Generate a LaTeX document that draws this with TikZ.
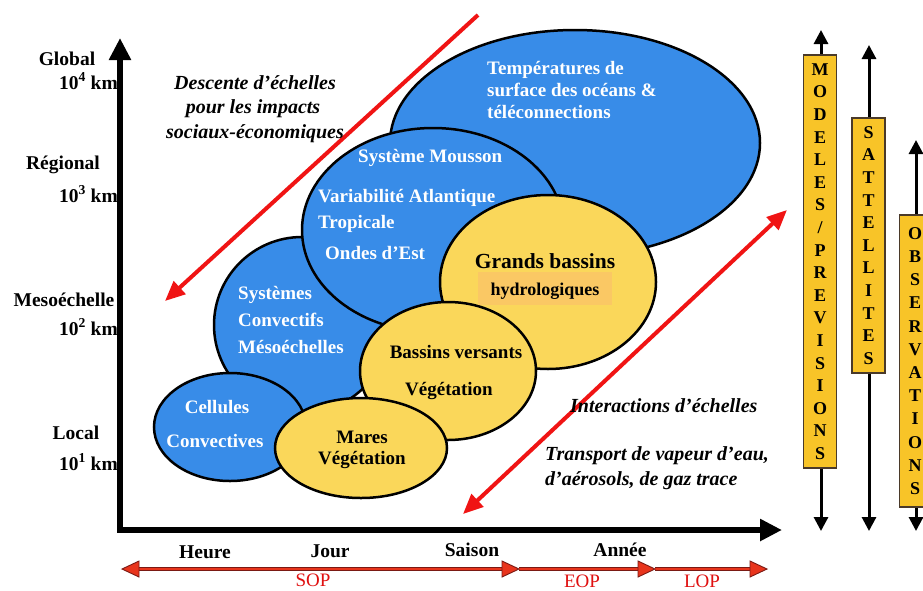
\documentclass[tikz,border=0pt]{standalone}
\usepackage{fontspec}
\setmainfont{Liberation Serif}
\usetikzlibrary{arrows.meta,shapes.geometric}
\definecolor{eblue}{HTML}{388CE8}
\definecolor{eyellow}{HTML}{FAD75A}
\definecolor{bargold}{HTML}{F8C428}
\definecolor{barline}{HTML}{4A3A2A}
\definecolor{hydrobox}{HTML}{FAC864}
\definecolor{ared}{HTML}{F01414}
\definecolor{bred}{HTML}{E8341C}
\definecolor{bdark}{HTML}{7A1A14}
\definecolor{labred}{HTML}{E01010}
\begin{document}
\begin{tikzpicture}[x=1pt,y=-1pt,
  blob/.style={ellipse, draw=black, line width=2.5pt, inner sep=0pt},
  wtxt/.style={text=white, font=\bfseries\fontsize{19}{22}\selectfont, inner sep=0pt},
  ktxt/.style={text=black, font=\bfseries\fontsize{19}{22}\selectfont, inner sep=0pt},
  itxt/.style={text=black, font=\bfseries\itshape\fontsize{20}{22}\selectfont, inner sep=0pt},
  axlab/.style={text=black, font=\bfseries\fontsize{19.5}{22}\selectfont, inner sep=0pt},
  oplab/.style={text=labred, font=\fontsize{19}{20}\selectfont, inner sep=0pt},
  redarr/.style={draw=ared, line width=4pt, -{Triangle[length=20pt,width=17pt]}},
  botline/.style={draw=bdark, double=bred, double distance=2.2pt, line width=1.3pt},
  bothead/.style={fill=bred, draw=bdark, line width=0.9pt, line join=miter},
  vline/.style={draw=black, line width=3pt, {Triangle[length=14pt,width=14pt]}-{Triangle[length=14pt,width=14pt]}},
  bar/.style={rectangle, fill=bargold, draw=barline, line width=1.5pt, minimum width=33pt, inner sep=0pt, align=center, font=\bfseries\fontsize{18}{22.6}\selectfont}
]
\useasboundingbox (0,0) rectangle (923,590);
\clip (0,0) rectangle (923,590);
\fill[white] (0,0) rectangle (923,590);

% ---- ellipses
\node[blob, fill=eblue, minimum width=370pt, minimum height=226pt] (sst) at (575,143) {};
\node[blob, fill=eblue, minimum width=176pt, minimum height=176pt] (sysconv) at (302,325) {};
\node[blob, fill=eblue, minimum width=262pt, minimum height=204pt] (mousson) at (433,230) {};
\node[blob, fill=eyellow, minimum width=216pt, minimum height=174pt] (grands) at (548,282) {};
\node[blob, fill=eblue, minimum width=152pt, minimum height=108pt] (cell) at (230,427) {};
\node[blob, fill=eyellow, minimum width=176pt, minimum height=138pt] (bv) at (448,371) {};
\node[blob, fill=eyellow, minimum width=172pt, minimum height=100pt] (mares) at (361,448) {};

% ---- ellipse texts
\node[wtxt, anchor=base west] (tsst1) at (487,74) {Températures de};
\node[wtxt, anchor=base west] (tsst2) at (487,96) {surface des océans \&};
\node[wtxt, anchor=base west] (tsst3) at (487,118) {téléconnections};
\node[wtxt, anchor=base west] (tm1) at (358,162) {Système Mousson};
\node[wtxt, anchor=base west] (tm2) at (318,202) {Variabilité Atlantique};
\node[wtxt, anchor=base west] (tm3) at (318,228) {Tropicale};
\node[wtxt, anchor=base west] (tm4) at (325,259) {Ondes d’Est};
\node[wtxt, anchor=base west] (ts1) at (238,299) {Systèmes};
\node[wtxt, anchor=base west] (ts2) at (238,326) {Convectifs};
\node[wtxt, anchor=base west] (ts3) at (238,353) {Mésoéchelles};
\node[wtxt, anchor=base] (tc1) at (217,413) {Cellules};
\node[wtxt, anchor=base] (tc2) at (215,447) {Convectives};
\node[ktxt, anchor=base] (tmar1) at (362,443) {Mares};
\node[ktxt, anchor=base] (tmar2) at (362,464) {Végétation};
\node[ktxt, anchor=base] (tbv1) at (456,358) {Bassins versants};
\node[ktxt, anchor=base] (tbv2) at (449,395) {Végétation};
\node[ktxt, anchor=base, font=\bfseries\fontsize{21.5}{24}\selectfont] (tgb) at (545,268) {Grands bassins};
\fill[hydrobox] (478,272) rectangle (612,305);
\node[ktxt, anchor=base, font=\bfseries\fontsize{18}{20}\selectfont] (thydro) at (545,295) {hydrologiques};

% ---- red diagonal arrows
\coordinate (dtop) at (478,15);
\coordinate (dbot) at (165,301);
\draw[redarr] (dtop) -- (dbot);
\coordinate (itop) at (787,210);
\coordinate (ibot) at (463,514);
\draw[redarr, {Triangle[length=20pt,width=17pt]}-{Triangle[length=20pt,width=17pt]}] (ibot) -- (itop);

% ---- italic texts
\node[itxt, anchor=base] (de1) at (255,89) {Descente d’échelles};
\node[itxt, anchor=base] (de2) at (253,113) {pour les impacts};
\node[itxt, anchor=base] (de3) at (255,138) {sociaux-économiques};
\node[itxt, anchor=base west] (ie1) at (570,412) {Interactions d’échelles};
\node[itxt, anchor=base west] (tr1) at (545,460) {Transport de vapeur d’eau,};
\node[itxt, anchor=base west] (tr2) at (545,485) {d’aérosols, de gaz trace};

% ---- y labels
\node[axlab, anchor=base] (lglob) at (67,65) {Global};
\node[axlab, anchor=base east] (l4) at (118,89) {10\textsuperscript{4} km};
\node[axlab, anchor=base] (lreg) at (63,169) {Régional};
\node[axlab, anchor=base east] (l3) at (118,202) {10\textsuperscript{3} km};
\node[axlab, anchor=base] (lmeso) at (64,306) {Mesoéchelle};
\node[axlab, anchor=base east] (l2) at (118,335) {10\textsuperscript{2} km};
\node[axlab, anchor=base] (lloc) at (76,439) {Local};
\node[axlab, anchor=base east] (l1) at (118,470) {10\textsuperscript{1} km};

% ---- axes
\coordinate (O) at (120,530);
\coordinate (ytip) at (120,38);
\coordinate (xtip) at (782,530);
\draw[line width=6pt, {Triangle[length=22pt,width=21pt]}-{Triangle[length=22pt,width=21pt]}] (ytip) -- (O) -- (xtip);

% ---- time labels
\node[axlab, anchor=base] (theure) at (205,558) {Heure};
\node[axlab, anchor=base] (tjour) at (330,557) {Jour};
\node[axlab, anchor=base] (tsaison) at (472,556) {Saison};
\node[axlab, anchor=base] (tannee) at (620,556) {Année};

% ---- bottom period arrows
\coordinate (sopL) at (122,569);
\coordinate (sopR) at (519,569);
\coordinate (eopR) at (655,569);
\coordinate (lopR) at (767,569);
\draw[botline] ([xshift=15pt]sopL) -- ([xshift=-15pt]sopR);
\draw[botline] (sopR) -- ([xshift=-15pt]eopR);
\draw[botline] (eopR) -- ([xshift=-15pt]lopR);
\filldraw[bothead] (sopL) -- ++(17,-8) -- ++(0,16) -- cycle;
\filldraw[bothead] (sopR) -- ++(-17,-8) -- ++(0,16) -- cycle;
\filldraw[bothead] (eopR) -- ++(-17,-8) -- ++(0,16) -- cycle;
\filldraw[bothead] (lopR) -- ++(-17,-8) -- ++(0,16) -- cycle;
\node[oplab, anchor=base] (tsop) at (313,586) {SOP};
\node[oplab, anchor=base] (teop) at (582,587) {EOP};
\node[oplab, anchor=base] (tlop) at (702,587) {LOP};

% ---- right bars
\coordinate (mtop) at (821,30);
\coordinate (mbot) at (821,531);
\coordinate (stop) at (869,45);
\coordinate (sbot) at (869,531);
\coordinate (otop) at (916,140);
\coordinate (obot) at (916,531);
\draw[vline] (mtop) -- (mbot);
\draw[vline] (stop) -- (sbot);
\draw[vline] (otop) -- (obot);
\node[bar, minimum height=413pt] (bmod) at (820,261.5) {M\\O\\D\\E\\L\\E\\S\\/\\P\\R\\E\\V\\I\\S\\I\\O\\N\\S};
\node[bar, minimum height=255pt] (bsat) at (868.5,245.5) {S\\A\\T\\T\\E\\L\\L\\I\\T\\E\\S};
\node[bar, minimum height=292pt, minimum width=31pt, font=\bfseries\fontsize{18}{23.2}\selectfont] (bobs) at (915,361) {O\\B\\S\\E\\R\\V\\A\\T\\I\\O\\N\\S};
\end{tikzpicture}
\end{document}
